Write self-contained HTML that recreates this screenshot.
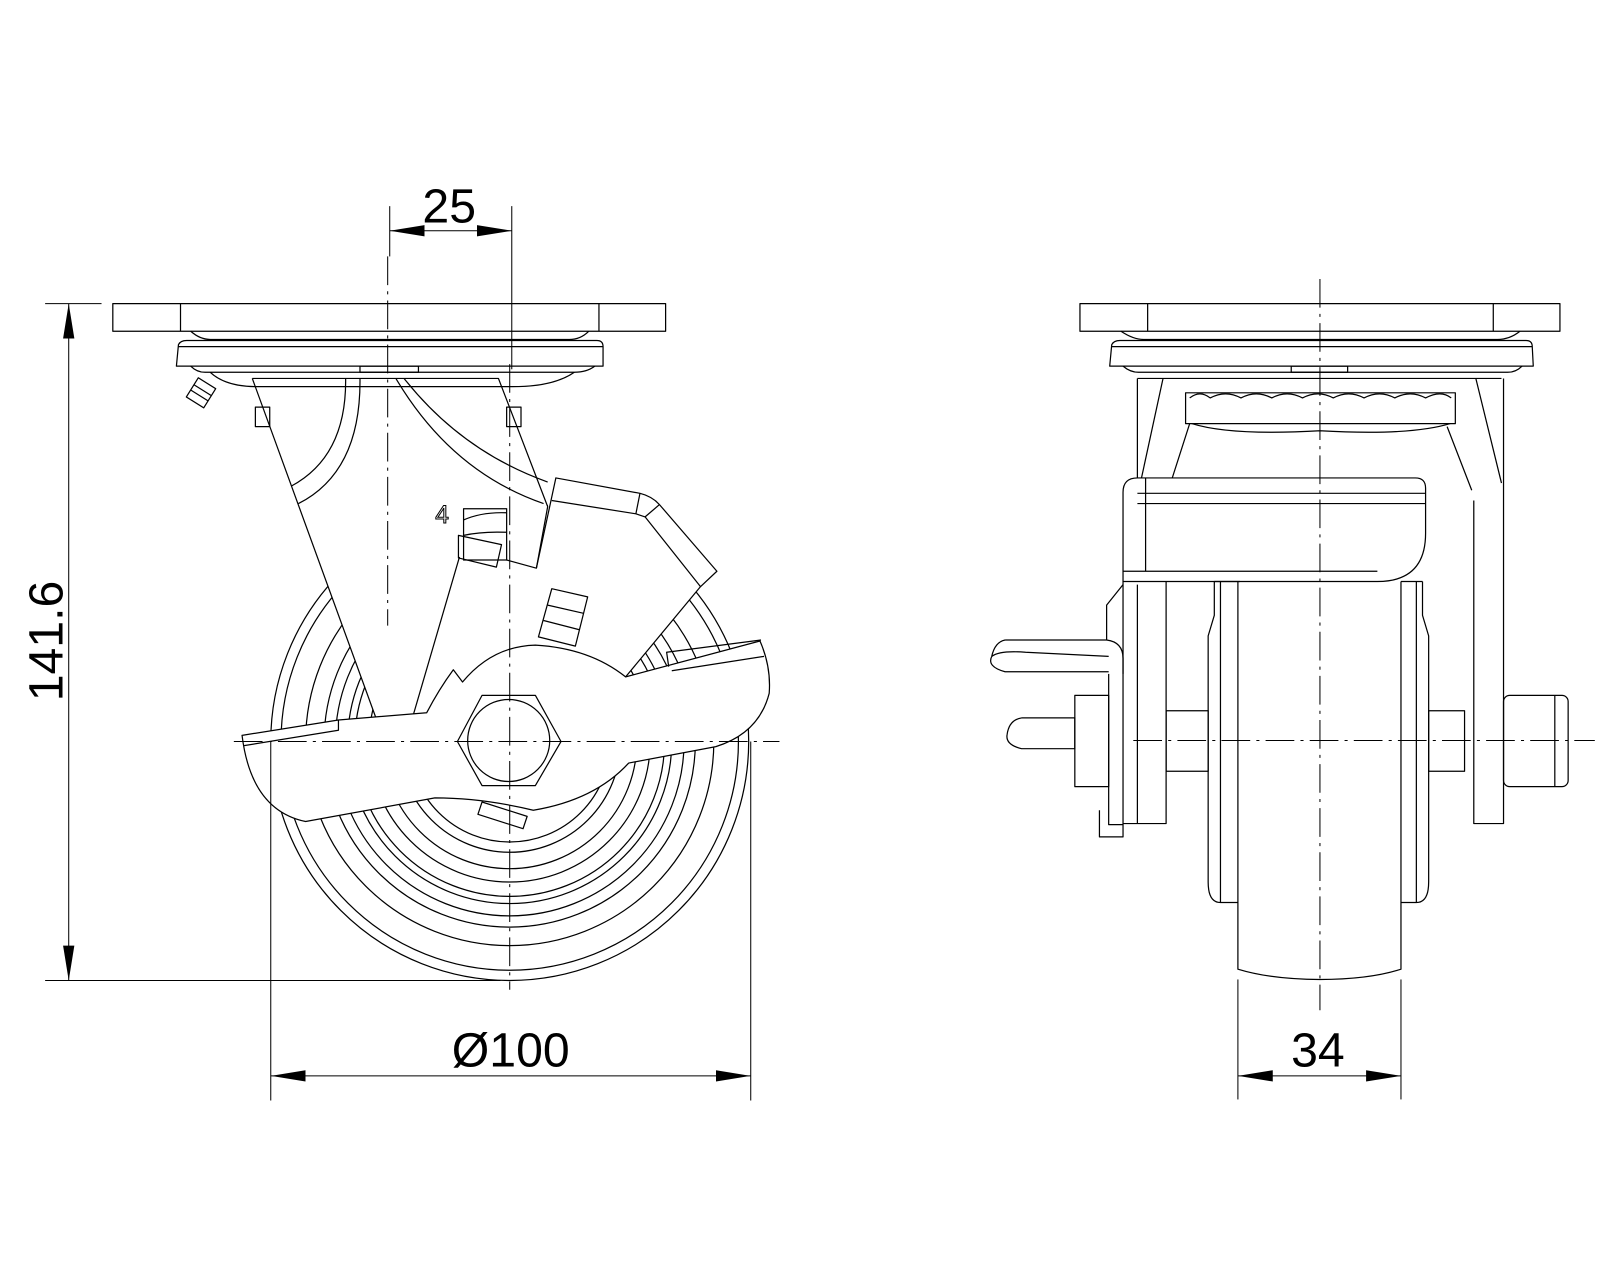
<!DOCTYPE html>
<html><head><meta charset="utf-8"><style>body{margin:0;background:#fff}svg{display:block}</style></head><body>
<svg width="1600" height="1280" viewBox="0 0 1600 1280" xmlns="http://www.w3.org/2000/svg">
<defs>
<marker id="a" viewBox="0 0 34 11" refX="34" refY="5.5" markerWidth="34" markerHeight="11" markerUnits="userSpaceOnUse" orient="auto-start-reverse"><path d="M0,0 L34,5.5 L0,11 Z" fill="#000"/></marker>
</defs>
<g transform="scale(1.0256)">
<g fill="none" stroke="#000" stroke-width="1.2" stroke-linejoin="round">
<!-- wheel -->
<circle cx="497" cy="723" r="233"/>
<circle cx="497" cy="723" r="223"/>
<circle cx="497" cy="723" r="199"/>
<circle cx="497" cy="723" r="181"/>
<circle cx="497" cy="723" r="170"/>
<circle cx="497" cy="723" r="158"/>
<circle cx="497" cy="723" r="151"/>
<circle cx="497" cy="723" r="137"/>
<circle cx="497" cy="723" r="124"/>
<circle cx="497" cy="723" r="108"/>
<circle cx="497" cy="723" r="98"/>
<!-- mask over wheel for fork/lever -->
<polygon points="246,369 486,369 534,494 542,466 624,481 643,492 699,557 683,572 610,660 522,629 451,665 442,653 416,695 368,704" fill="#fff" stroke="none"/>
<!-- LEFT VIEW -->
<rect x="110" y="296" width="539" height="27"/>
<line x1="176" y1="296" x2="176" y2="323"/><line x1="584" y1="296" x2="584" y2="323"/>
<path d="M186,323 Q195,331 205,331 L555,331 Q566,331 574,323"/>
<path d="M172,357 L174,336 Q176,332 182,332 L582,332 Q588,332 588,338 L588,357 Z"/>
<line x1="174" y1="338" x2="588" y2="338"/>
<rect x="351" y="357" width="57" height="6"/>
<path d="M186,357 Q192,363 200,363 L560,363 Q572,363 580,357"/>
<path d="M205,363 Q220,377 250,377 L500,377 Q540,377 560,363"/>
<g transform="rotate(32 196 383)"><rect x="186" y="372" width="20" height="22"/><line x1="186" y1="380" x2="206" y2="380"/><line x1="186" y1="386" x2="206" y2="386"/></g>
<rect x="249" y="397" width="14" height="19"/><rect x="494" y="397" width="14" height="19"/>
<!-- fork -->
<path d="M246,369 L486,369 L534,494 L523,554 L494,546"/>
<path d="M246,369 L368,704"/>
<path d="M448,543 L403,697"/>
<path d="M337,369 Q338,445 284,474"/>
<path d="M351,369 Q352,460 291,491"/>
<path d="M386,369 Q440,460 530,491"/>
<path d="M394,369 Q450,440 534,470"/>
<!-- lever -->
<path d="M523,554 L542,466 L624,481 Q636,484 643,492 L699,557 L683,572 L610,660"/>
<path d="M538,488 L620,501 L629,504 L683,572"/>
<line x1="624" y1="481" x2="620" y2="501"/><line x1="643" y1="492" x2="629" y2="504"/>
<rect x="452" y="496" width="42" height="50"/>
<path d="M452,507 Q470,499 494,500 M452,522 Q470,518 494,519"/>
<path d="M447,522 L489,531 L484,553 L447,544 Z"/>
<path d="M538,574 L573,582 L561,630 L525,621 Z"/>
<line x1="534" y1="590" x2="569" y2="598"/><line x1="530" y1="605" x2="565" y2="614"/>
<!-- brake arm -->
<path d="M236,717 L330,702 L416,695 Q428,672 442,653 L451,665 Q480,630 522,629 Q575,632 610,660 L741,625 Q752,650 750,676 Q740,715 698,728 L613,744 Q580,780 520,790 Q470,778 424,778 L298,801 Q245,790 236,717 Z" fill="#fff"/>
<path d="M238,727 L330,712 L330,702"/>
<path d="M652,650 L650,636 L742,624 M655,654 L745,640"/>
<path d="M470,782 L514,796 L510,808 L466,794 Z"/>
<polygon points="470,678 522,678 547,723 522,766 470,766 446,723" fill="#fff"/>
<circle cx="496" cy="722" r="40"/>
<!-- RIGHT VIEW -->
<rect x="1053" y="296" width="468" height="27"/>
<line x1="1119" y1="296" x2="1119" y2="323"/><line x1="1456" y1="296" x2="1456" y2="323"/>
<path d="M1093,323 Q1105,331 1115,331 L1460,331 Q1472,331 1482,323"/>
<path d="M1082,357 L1084,336 Q1086,332 1092,332 L1488,332 Q1494,332 1494,338 L1495,357 Z"/>
<line x1="1084" y1="338" x2="1494" y2="338"/>
<rect x="1259" y="357" width="55" height="6"/>
<path d="M1095,357 Q1102,363 1110,363 L1470,363 Q1478,363 1484,357"/>
<path d="M1109,369 L1464,369"/>
<rect x="1156" y="383" width="263" height="30"/>
<path d="M1160,388 Q1170,380 1180,388 Q1195,380 1210,388 Q1225,380 1240,388 Q1255,380 1270,388 Q1285,380 1300,388 Q1315,380 1330,388 Q1345,380 1360,388 Q1375,380 1390,388 Q1405,380 1415,388"/>
<path d="M1162,413 Q1200,425 1287,420 Q1375,425 1414,413"/>
<path d="M1109,369 L1109,466 M1134,369 L1113,466 M1160,413 L1143,466"/>
<path d="M1466,369 L1466,803 L1437,803 L1437,488 M1439,369 L1464,471 M1411,416 L1435,478"/>
<path d="M1095,480 Q1095,466 1109,466 L1380,466 Q1390,466 1390,476 L1390,520 Q1390,567 1343,567 L1095,567 Z"/>
<path d="M1109,481 L1390,481 M1109,491 L1390,491 M1117,466 L1117,557 M1095,557 L1343,557"/>
<path d="M1095,567 L1095,803 L1137,803 L1137,567"/>
<line x1="1109" y1="570" x2="1109" y2="803"/>
<path d="M1184,567 L1184,600 L1178,620 L1178,860 Q1178,880 1190,880 L1207,880"/>
<path d="M1387,567 L1387,600 L1393,620 L1393,860 Q1393,880 1381,880 L1366,880"/>
<line x1="1190" y1="567" x2="1190" y2="880"/><line x1="1381" y1="567" x2="1381" y2="880"/>
<path d="M1207,567 L1207,945 Q1240,955 1287,955 Q1335,955 1366,945 L1366,567"/>
<line x1="1184" y1="567" x2="1209" y2="567"/><line x1="1366" y1="567" x2="1387" y2="567"/>
<rect x="1137" y="693" width="41" height="59"/><rect x="1393" y="693" width="35" height="59"/>
<rect x="1466" y="678" width="63" height="89" rx="6"/>
<line x1="1516" y1="678" x2="1516" y2="767"/>
<rect x="1048" y="678" width="33" height="89"/>
<path d="M1081,657 L1081,804 L1095,804 M1072,790 L1072,816 L1095,816 L1095,803"/>
<path d="M1079,624 L1079,590 L1095,570"/>
<path d="M980,624 L1079,624 Q1095,626 1095,642 L1095,657 M1081,655 L980,655 Q962,650 967,640 Q970,626 980,624"/>
<path d="M967,640 Q975,634 1000,636 L1081,640"/>
<path d="M996,700 L1048,700 L1048,730 L996,730 Q980,726 982,716 Q984,702 996,700"/>
</g>
<!-- center lines -->
<g stroke="#000" stroke-width="1" stroke-dasharray="28,6,3,6" fill="none">
<line x1="378" y1="250" x2="378" y2="610"/>
<line x1="497" y1="355" x2="497" y2="965"/>
<line x1="228" y1="723" x2="760" y2="723"/>
<line x1="1287" y1="272" x2="1287" y2="985"/>
<line x1="1105" y1="722" x2="1555" y2="722"/>
</g>
<!-- dimensions -->
<g stroke="#000" stroke-width="1" fill="none">
<line x1="380" y1="201" x2="380" y2="250"/><line x1="499" y1="201" x2="499" y2="360"/>
<line x1="380" y1="225" x2="499" y2="225" marker-start="url(#a)" marker-end="url(#a)"/>
<line x1="44" y1="296" x2="99" y2="296"/><line x1="44" y1="956" x2="488" y2="956"/>
<line x1="67" y1="296" x2="67" y2="956" marker-start="url(#a)" marker-end="url(#a)"/>
<line x1="264" y1="723" x2="264" y2="1073"/><line x1="732" y1="723" x2="732" y2="1073"/>
<line x1="264" y1="1049" x2="732" y2="1049" marker-start="url(#a)" marker-end="url(#a)"/>
<line x1="1207" y1="955" x2="1207" y2="1072"/><line x1="1366" y1="955" x2="1366" y2="1072"/>
<line x1="1207" y1="1049" x2="1366" y2="1049" marker-start="url(#a)" marker-end="url(#a)"/>
</g>
<g font-family="Liberation Sans, sans-serif" font-size="47" text-anchor="middle" fill="#000">
<text x="438" y="217">25</text>
<text x="498" y="1040">Ø100</text>
<text x="1285" y="1040">34</text>
<text transform="translate(61,625) rotate(-90)">141.6</text>
<text x="431" y="510" font-size="24" fill="#fff" stroke="#000" stroke-width="1">4</text>
</g>
</g>
</svg>
</body></html>
